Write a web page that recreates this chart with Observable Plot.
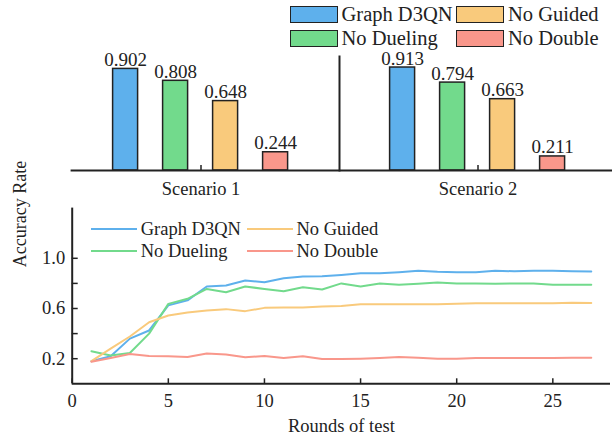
<!DOCTYPE html>
<html>
<head>
<meta charset="utf-8">
<script src="https://cdn.jsdelivr.net/npm/d3@7"></script>
<script src="https://cdn.jsdelivr.net/npm/@observablehq/plot@0.6"></script>
<style>
  html, body { margin: 0; padding: 0; background: #fff; }
  #wrap { position: relative; width: 616px; height: 441px; overflow: hidden; background: #fff; font-family: "Liberation Serif", "Times New Roman", serif; color: #222; }
  #top, #bottom { position: absolute; left: 0; }
  #top { top: 0; }
  #bottom { top: 200px; }
  .leg { position: absolute; display: flex; align-items: center; white-space: nowrap; }
  .sw { box-sizing: border-box; border: 1.5px solid #222; }
  .ln { height: 2px; }
  #ylab { position: absolute; left: 20px; top: 214px; transform: translate(-50%, -50%) rotate(-90deg); white-space: nowrap; font-size: 18px; line-height: 1; }
</style>
</head>
<body>
<div id="wrap">
  <div id="top"></div>
  <div id="bottom"></div>
  <div id="ylab">Accuracy Rate</div>
</div>
<script>
// ---- data ----
const scenarios = ["Scenario 1", "Scenario 2"];
const methods = ["Graph D3QN", "No Dueling", "No Guided", "No Double"];
const colors = ["#5eb0ec", "#72da8c", "#f9ca7c", "#f9978b"];
const scenario1Values = [0.902, 0.808, 0.648, 0.244];
const scenario2Values = [0.913, 0.794, 0.663, 0.211];

const rounds = [1,2,3,4,5,6,7,8,9,10,11,12,13,14,15,16,17,18,19,20,21,22,23,24,25,26,27];
const graphD3QN = [0.18,0.22,0.36,0.425,0.625,0.665,0.775,0.783,0.823,0.81,0.841,0.855,0.856,0.867,0.881,0.881,0.889,0.9,0.892,0.889,0.889,0.9,0.897,0.9,0.9,0.897,0.894];
const noDueling = [0.26,0.226,0.245,0.4,0.637,0.677,0.756,0.73,0.775,0.756,0.738,0.77,0.751,0.8,0.776,0.8,0.789,0.797,0.807,0.8,0.8,0.797,0.8,0.8,0.79,0.79,0.79];
const noGuided = [0.18,0.28,0.377,0.491,0.544,0.568,0.584,0.595,0.579,0.605,0.608,0.608,0.616,0.619,0.633,0.633,0.633,0.633,0.633,0.638,0.641,0.641,0.641,0.641,0.641,0.646,0.644];
const noDouble = [0.175,0.205,0.237,0.221,0.219,0.213,0.242,0.234,0.211,0.221,0.205,0.219,0.197,0.197,0.2,0.205,0.213,0.208,0.2,0.2,0.205,0.205,0.205,0.205,0.205,0.208,0.208];

const xTicks = [0, 5, 10, 15, 20, 25];
const yLabelTicks = [0.2, 0.6, 1.0];
const yTickMarks = [0.2, 0.4, 0.6, 0.8, 1.0];
const legendOrder = ["Graph D3QN", "No Guided", "No Dueling", "No Double"];

// ---- tables ----
const barData = [];
[scenario1Values, scenario2Values].forEach((vals, si) =>
  vals.forEach((v, mi) => barData.push({scenario: scenarios[si], method: methods[mi], value: v})));
const lineSeries = [graphD3QN, noDueling, noGuided, noDouble];
const lineData = [];
lineSeries.forEach((vals, mi) => vals.forEach((v, i) => lineData.push({method: methods[mi], round: rounds[i], value: v})));

const yBase = 0.1;
const font = "Liberation Serif";
const colorScale = {domain: methods, range: colors};

// ---- top chart ----
const topPlot = Plot.plot({
  width: 616, height: 200,
  marginLeft: 61.4, marginRight: 0, marginTop: 56, marginBottom: 30,
  style: {fontFamily: font, fontSize: "18px", color: "#222", background: "transparent"},
  fx: {domain: scenarios, padding: 0, label: null},
  x: {domain: methods, paddingInner: 0.5, paddingOuter: 0.97, axis: null},
  y: {domain: [yBase, 1.0], axis: null},
  color: colorScale,
  marks: [
    Plot.barY(barData, {fx: "scenario", x: "method", y1: () => yBase, y2: "value", fill: "method", stroke: "#222", strokeWidth: 1.5}),
    Plot.text(barData, {fx: "scenario", x: "method", y: "value", text: d => d.value.toFixed(3), lineAnchor: "bottom", dy: -3, fontSize: 19, fill: "#222"}),
    Plot.ruleY([scenarios[0]], {fx: d => d, y: () => yBase, insetLeft: 8.6, strokeWidth: 2, stroke: "#222"}),
    Plot.ruleY([scenarios[1]], {fx: d => d, y: () => yBase, insetRight: 4, strokeWidth: 2, stroke: "#222"}),
    Plot.frame({anchor: "left", fx: [scenarios[1]], stroke: "#222", strokeWidth: 2}),
    Plot.axisFx({anchor: "bottom", tickSize: 0, tickPadding: 11, label: null, fontSize: 18.5}),
    Plot.axisFx({anchor: "bottom", tickSize: 5, dy: -5, tickFormat: () => "", label: null, strokeWidth: 1.5})
  ]
});
document.getElementById("top").appendChild(topPlot);

// ---- bottom chart ----
const bottomPlot = Plot.plot({
  width: 616, height: 241,
  marginLeft: 71.7, marginRight: 6, marginTop: 7.6, marginBottom: 57.7,
  style: {fontFamily: font, fontSize: "18px", color: "#222", background: "transparent"},
  x: {domain: [0, 28]},
  y: {domain: [0, 1.4]},
  color: colorScale,
  marks: [
    Plot.axisX({ticks: xTicks, tickSize: 0, tickPadding: 10, tickFormat: d => String(d), label: "Rounds of test", labelAnchor: "center", labelArrow: "none", labelOffset: 48, fontSize: 18.5}),
    Plot.axisX({ticks: xTicks, tickSize: 5, dy: -5, tickFormat: () => "", label: null, strokeWidth: 1.5}),
    Plot.axisY({ticks: yLabelTicks, tickSize: 0, tickPadding: 7, tickFormat: d3.format(".1f"), label: null, fontSize: 18.5}),
    Plot.axisY({ticks: yTickMarks, tickSize: 6, dx: 6, tickFormat: () => "", label: null, strokeWidth: 1.5}),
    Plot.line(lineData, {x: "round", y: "value", stroke: "method", z: "method", strokeWidth: 2}),
    Plot.ruleY([0], {stroke: "#222", strokeWidth: 2}),
    Plot.ruleX([0], {stroke: "#222", strokeWidth: 2})
  ]
});
document.getElementById("bottom").appendChild(bottomPlot);

// ---- legends (HTML) ----
const wrap = document.getElementById("wrap");
function addLegend(items, opts) {
  items.forEach((m, i) => {
    const col = i % 2, row = Math.floor(i / 2);
    const el = document.createElement("div");
    el.className = "leg";
    el.style.left = opts.x[col] + "px";
    el.style.top = (opts.y[row]) + "px";
    el.style.height = opts.rowH + "px";
    el.style.fontSize = opts.fontSize + "px";
    const mark = document.createElement("div");
    mark.className = opts.kind;
    mark.style.width = opts.w + "px";
    if (opts.kind === "sw") mark.style.height = opts.h + "px";
    mark.style.background = colors[methods.indexOf(m)];
    mark.style.marginRight = opts.gap + "px";
    const t = document.createElement("span");
    t.textContent = m;
    el.appendChild(mark); el.appendChild(t);
    wrap.appendChild(el);
  });
}
addLegend(legendOrder, {kind: "sw", x: [289.5, 456], y: [5, 29], rowH: 19, w: 48, h: 17.5, gap: 4, fontSize: 20.5});
addLegend(legendOrder, {kind: "ln", x: [90.7, 246.5], y: [219, 241], rowH: 20, w: 46, gap: 4, fontSize: 18.5});
</script>
</body>
</html>
